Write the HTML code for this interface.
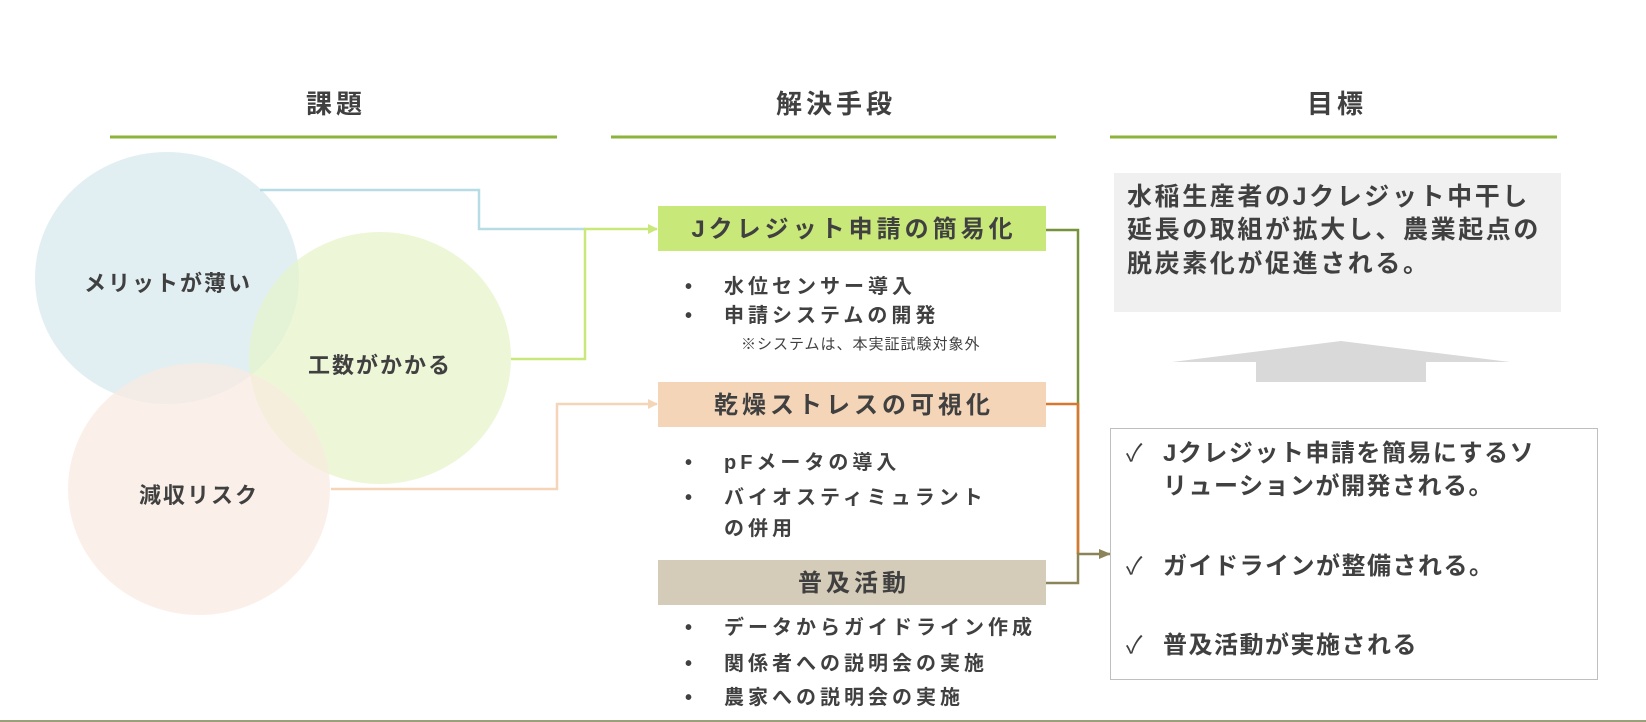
<!DOCTYPE html>
<html><head><meta charset="utf-8"><style>
html,body{margin:0;padding:0;background:#fff;}
svg{display:block;}
text{font-family:"Liberation Sans","Noto Sans CJK JP",sans-serif;fill:#404040;font-weight:bold;}
</style></head><body>
<svg width="1646" height="722" viewBox="0 0 1646 722" xmlns="http://www.w3.org/2000/svg">
<defs>
<marker id="ag" markerWidth="10" markerHeight="10" refX="9" refY="5" orient="auto" markerUnits="userSpaceOnUse"><path d="M0,0 L10,5 L0,10 z" fill="#c9e87a"/></marker>
<marker id="ap" markerWidth="10" markerHeight="10" refX="9" refY="5" orient="auto" markerUnits="userSpaceOnUse"><path d="M0,0 L10,5 L0,10 z" fill="#f5d5b8"/></marker>
<marker id="ak" markerWidth="12" markerHeight="10" refX="11" refY="5" orient="auto" markerUnits="userSpaceOnUse"><path d="M0,0 L12,5 L0,10 z" fill="#8a8458"/></marker>
</defs>
<!-- headers -->
<g letter-spacing="4">
<text x="336" y="113" font-size="26" text-anchor="middle">課題</text>
<text x="836" y="113" font-size="26" text-anchor="middle">解決手段</text>
<text x="1337" y="113" font-size="26" text-anchor="middle">目標</text>
</g>
<g stroke="#8db33a" stroke-width="3">
<line x1="110" y1="137" x2="557" y2="137"/>
<line x1="611" y1="137" x2="1056" y2="137"/>
<line x1="1110" y1="137" x2="1557" y2="137"/>
</g>
<!-- circles -->
<ellipse cx="167" cy="278" rx="132" ry="126" fill="#d7e9ef" opacity="0.75"/>
<ellipse cx="380" cy="358" rx="131" ry="126" fill="#e5f4c8" opacity="0.7"/>
<ellipse cx="199" cy="489" rx="131" ry="126" fill="#faeadf" opacity="0.7"/>
<g letter-spacing="2">
<text x="168" y="291" font-size="22" text-anchor="middle">メリットが薄い</text>
<text x="380" y="373" font-size="22" text-anchor="middle">工数がかかる</text>
<text x="199" y="503" font-size="22" text-anchor="middle">減収リスク</text>
</g>
<!-- left connectors -->
<polyline points="260,190 479,190 479,229 585,229" fill="none" stroke="#b8dce6" stroke-width="2.5"/>
<polyline points="511,359 585,359 585,229 657,229" fill="none" stroke="#c9e87a" stroke-width="2.5" marker-end="url(#ag)"/>
<polyline points="331,489 557,489 557,404 657,404" fill="none" stroke="#f5d5b8" stroke-width="2.5" marker-end="url(#ap)"/>
<!-- boxes -->
<rect x="658" y="206" width="388" height="45" fill="#c9e87a"/>
<rect x="658" y="382" width="388" height="45" fill="#f5d5b8"/>
<rect x="658" y="560" width="388" height="45" fill="#d4cbb8"/>
<g letter-spacing="4">
<text x="854" y="237" font-size="24" text-anchor="middle">Jクレジット申請の簡易化</text>
<text x="854" y="413" font-size="24" text-anchor="middle">乾燥ストレスの可視化</text>
<text x="854" y="591" font-size="24" text-anchor="middle">普及活動</text>
</g>
<!-- bullets -->
<g font-size="20">
<text x="685" y="293">•</text>
<text x="685" y="322">•</text>
<text x="685" y="469">•</text>
<text x="685" y="504">•</text>
<text x="685" y="634">•</text>
<text x="685" y="670">•</text>
<text x="685" y="704">•</text>
</g>
<g font-size="20" letter-spacing="4">
<text x="724" y="293">水位センサー導入</text>
<text x="724" y="322">申請システムの開発</text>
<text x="724" y="469">pFメータの導入</text>
<text x="724" y="504">バイオスティミュラント</text>
<text x="724" y="535">の併用</text>
<text x="724" y="634">データからガイドライン作成</text>
<text x="724" y="670">関係者への説明会の実施</text>
<text x="724" y="704">農家への説明会の実施</text>
</g>
<text x="741" y="349" font-size="15" style="font-weight:normal" letter-spacing="1">※システムは、本実証試験対象外</text>
<!-- right connectors -->
<polyline points="1046,230 1078,230 1078,554" fill="none" stroke="#76923c" stroke-width="2.5"/>
<polyline points="1046,404 1078,404 1078,554" fill="none" stroke="#d9772f" stroke-width="2.5"/>
<polyline points="1046,583 1078,583 1078,554 1110,554" fill="none" stroke="#8a8458" stroke-width="2.5" marker-end="url(#ak)"/>
<!-- goal box -->
<rect x="1114" y="173" width="447" height="139" fill="#f0f0f0"/>
<g font-size="25" letter-spacing="2.6">
<text x="1127" y="205">水稲生産者のJクレジット中干し</text>
<text x="1127" y="238">延長の取組が拡大し、農業起点の</text>
<text x="1127" y="272">脱炭素化が促進される。</text>
</g>
<!-- big arrow -->
<polygon points="1341,341 1510,362 1426,362 1426,382 1256,382 1256,362 1172,362" fill="#d9d9d9"/>
<!-- results box -->
<rect x="1110.5" y="428.5" width="487" height="251" fill="#fff" stroke="#bfbfbf" stroke-width="1"/>
<g font-size="24">
<text x="1126" y="461" style="font-weight:normal">✓</text>
<text x="1126" y="574" style="font-weight:normal">✓</text>
<text x="1126" y="653" style="font-weight:normal">✓</text>
</g>
<g font-size="24" letter-spacing="1.5">
<text x="1163" y="461">Jクレジット申請を簡易にするソ</text>
<text x="1163" y="494">リューションが開発される。</text>
<text x="1163" y="574">ガイドラインが整備される。</text>
<text x="1163" y="653">普及活動が実施される</text>
</g>
<line x1="0" y1="721" x2="1646" y2="721" stroke="#9aa07a" stroke-width="2"/>
</svg>
</body></html>
